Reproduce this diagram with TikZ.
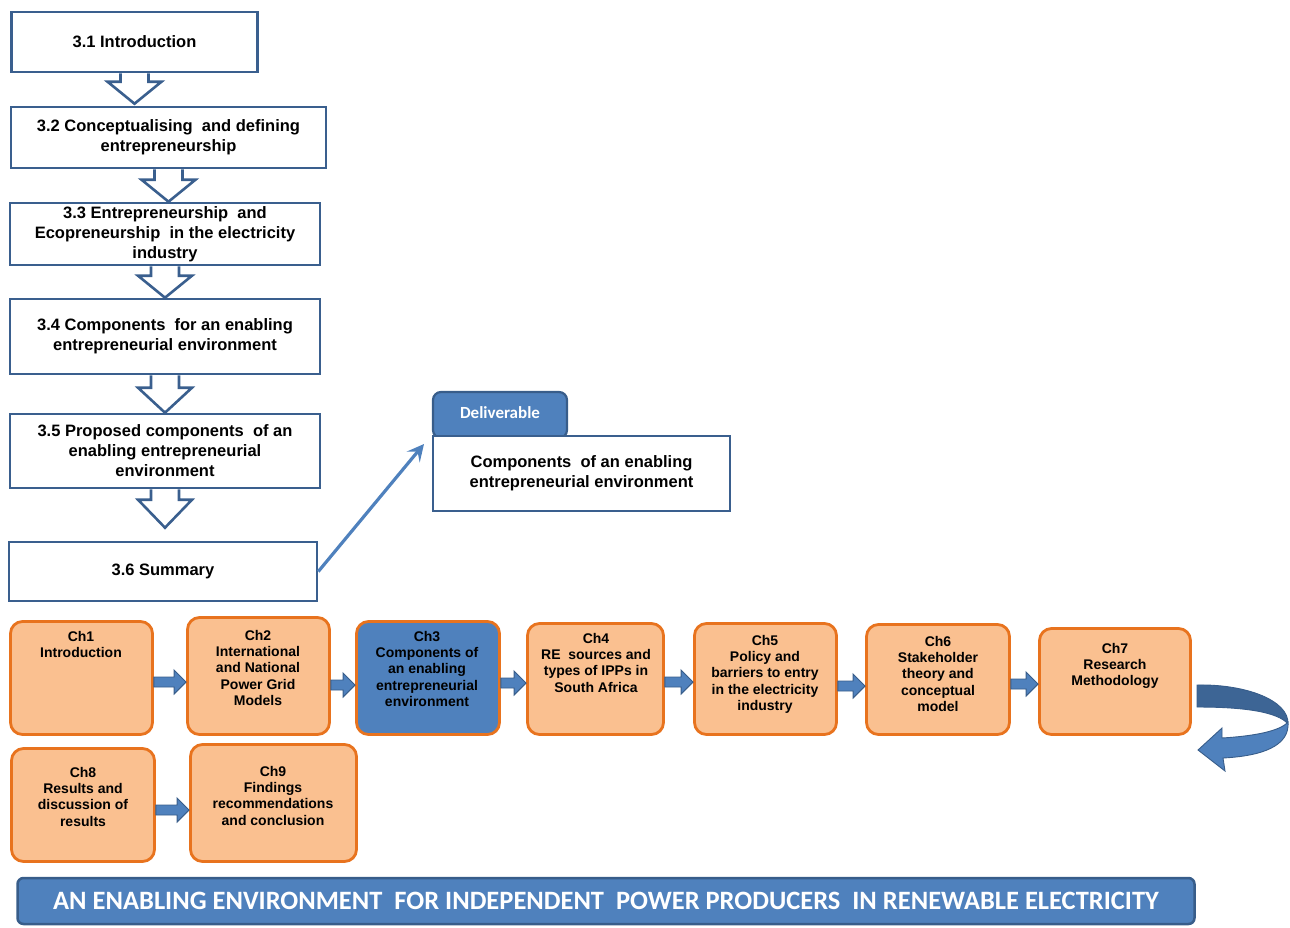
\documentclass[tikz,border=0pt]{standalone}
\usepackage{fontspec}
\setmainfont{Liberation Sans}
\newfontfamily\calfont{Carlito}
\usetikzlibrary{arrows.meta,calc}

\definecolor{navy}{HTML}{3A5F8E}
\definecolor{steel}{HTML}{4F81BD}
\definecolor{steeldark}{HTML}{385D8A}
\definecolor{backblue}{HTML}{3D6595}
\definecolor{orng}{HTML}{E8731E}
\definecolor{peach}{HTML}{FAC090}

\tikzset{
  secbox/.style={draw=navy, line width=2.6pt, fill=white, inner sep=0pt,
    align=center, font=\bfseries\fontsize{16.5}{20}\selectfont},
  hollowarr/.style={draw=navy, fill=white, line width=2.6pt, line join=miter},
  chbox/.style={draw=orng, line width=2.8pt, fill=peach, rounded corners=12pt, inner sep=0pt},
  chtext/.style={anchor=north, inner sep=0pt, align=center,
    font=\bfseries\fontsize{14}{16.3}\selectfont},
  blockarr/.style={fill=steel, draw=steeldark, line width=0.9pt, line join=miter},
  linkarr/.style={draw=steel, line width=3.2pt, -{Stealth[length=17pt,width=17pt,inset=7pt]}},
}

% hollow block arrow pointing down: from node, to node, head length, gap above target
\newcommand\hollowdown[4]{%
  \path[hollowarr] let \p1=(#1.south), \p2=(#2.north) in
    (\x1-14pt,\y1) -- (\x1-14pt,\y2+#4pt+#3pt) -- (\x1-27pt,\y2+#4pt+#3pt)
    -- (\x1,\y2+#4pt) -- (\x1+27pt,\y2+#4pt+#3pt) -- (\x1+14pt,\y2+#4pt+#3pt)
    -- (\x1+14pt,\y1);}

% small filled block arrow between two chapter boxes at a given height
\newcommand\blockright[3]{%
  \draw[blockarr] let \p1=(#1.east), \p2=(#2.west), \p3=(0,#3) in
    (\x1,\y3+5pt) -- (\x2-12pt,\y3+5pt) -- (\x2-12pt,\y3+12pt) -- (\x2,\y3)
    -- (\x2-12pt,\y3-12pt) -- (\x2-12pt,\y3-5pt) -- (\x1,\y3-5pt) -- cycle;}

\begin{document}
\begin{tikzpicture}[x=1pt,y=-1pt]
\useasboundingbox (0,0) rectangle (1290,927);

% section box centres
\path
  (134.5,42)  coordinate (p1)
  (168.5,137.5) coordinate (p2)
  (165,234)   coordinate (p3)
  (165,336.5) coordinate (p4)
  (165,451)   coordinate (p5)
  (163,571.5) coordinate (p6);

% invisible frames used to place the arrows underneath the boxes
\node[secbox, minimum width=246, minimum height=60, draw=none, fill=none] (s1) at (p1) {};
\node[secbox, minimum width=315, minimum height=61, draw=none, fill=none] (s2) at (p2) {};
\node[secbox, minimum width=310, minimum height=62, draw=none, fill=none] (s3) at (p3) {};
\node[secbox, minimum width=310, minimum height=75, draw=none, fill=none] (s4) at (p4) {};
\node[secbox, minimum width=310, minimum height=74, draw=none, fill=none] (s5) at (p5) {};
\node[secbox, minimum width=308, minimum height=59, draw=none, fill=none] (s6) at (p6) {};

\hollowdown{s1}{s2}{22}{2}
\hollowdown{s2}{s3}{22}{0}
\hollowdown{s3}{s4}{22}{0}
\hollowdown{s4}{s5}{25}{0}
\hollowdown{s5}{s6}{28}{13}

\node[secbox, minimum width=246, minimum height=60] (b1) at (p1) {3.1 Introduction};
\node[secbox, minimum width=315, minimum height=61] (b2) at (p2)
  {3.2 Conceptualising\ \ and defining\\entrepreneurship};
\node[secbox, minimum width=310, minimum height=62] (b3) at (p3)
  {3.3 Entrepreneurship\ \ and\\Ecopreneurship\ \ in the electricity\\industry};
\node[secbox, minimum width=310, minimum height=75] (b4) at (p4)
  {3.4 Components\ \ for an enabling\\entrepreneurial environment};
\node[secbox, minimum width=310, minimum height=74] (b5) at (p5)
  {3.5 Proposed components\ \ of an\\enabling entrepreneurial\\environment};
\node[secbox, minimum width=308, minimum height=59] (b6) at (p6) {3.6 Summary};

% deliverable
\node[draw=steeldark, line width=2.2pt, fill=steel, rounded corners=8pt,
  minimum width=134, minimum height=46, inner sep=0pt] (dtab) at (500,415) {};
\node[text=white, font=\calfont\bfseries\fontsize{17}{20}\selectfont, inner sep=0pt]
  (dtabtext) at (500,413) {Deliverable};
\node[secbox, minimum width=297, minimum height=75] (dbox) at (581.5,473.5)
  {Components\ \ of an enabling\\entrepreneurial environment};
\coordinate (dlink) at (424,444);
\draw[linkarr] (b6.east) -- (dlink);

% chapter boxes
\node[chbox, minimum width=142, minimum height=113] (c1) at (81.5,678) {};
\node[chbox, minimum width=142, minimum height=117] (c2) at (258.5,676) {};
\node[chbox, fill=steel, minimum width=143, minimum height=113] (c3) at (428,678) {};
\node[chbox, minimum width=136, minimum height=111] (c4) at (595.5,679) {};
\node[chbox, minimum width=142, minimum height=111] (c5) at (765.5,679) {};
\node[chbox, minimum width=143, minimum height=110] (c6) at (938,679.5) {};
\node[chbox, minimum width=151, minimum height=106] (c7) at (1115,681.5) {};
\node[chbox, minimum width=143, minimum height=113] (c8) at (83,805) {};
\node[chbox, minimum width=166, minimum height=117] (c9) at (273.5,803) {};

\node[chtext] (t1) at (81,631) {Ch1\\Introduction};
\node[chtext] (t2) at (258,630) {Ch2\\International\\and National\\Power Grid\\Models};
\node[chtext] (t3) at (427,631) {Ch3\\Components of\\an enabling\\entrepreneurial\\environment};
\node[chtext] (t4) at (596,633) {Ch4\\RE\ \ sources and\\types of IPPs in\\South Africa};
\node[chtext] (t5) at (765,635) {Ch5\\Policy and\\barriers to entry\\in the electricity\\industry};
\node[chtext] (t6) at (938,636) {Ch6\\Stakeholder\\theory and\\conceptual\\model};
\node[chtext] (t7) at (1115,643) {Ch7\\Research\\Methodology};
\node[chtext] (t8) at (83,767) {Ch8\\Results and\\discussion of\\results};
\node[chtext] (t9) at (273,766) {Ch9\\Findings\\recommendations\\and conclusion};

\blockright{c1}{c2}{682}
\blockright{c2}{c3}{685}
\blockright{c3}{c4}{683}
\blockright{c4}{c5}{682}
\blockright{c5}{c6}{686}
\blockright{c6}{c7}{684}
\blockright{c8}{c9}{810}

% curved return arrow after chapter 7
\filldraw[fill=backblue, draw=steeldark, line width=0.9pt]
  (1197,685) .. controls (1245,684) and (1289,700) .. (1288,724)
  .. controls (1278,712) and (1245,707) .. (1197,707) -- cycle;
\filldraw[fill=steel, draw=steeldark, line width=0.9pt, line join=miter]
  (1288,722) .. controls (1290,746) and (1262,756) .. (1223,758)
  -- (1225,771) -- (1198,750) -- (1222,728) -- (1222,738)
  .. controls (1255,736) and (1280,731) .. (1288,722) -- cycle;

% title banner
\node[draw=steeldark, line width=2.5pt, fill=steel, rounded corners=6pt,
  minimum width=1177, minimum height=46, inner sep=0pt, text=white,
  font=\calfont\bfseries\fontsize{26.5}{30}\selectfont] (banner) at (606,901)
  {AN ENABLING ENVIRONMENT\ \ FOR INDEPENDENT\ \ POWER PRODUCERS\ \ IN RENEWABLE ELECTRICITY};
\end{tikzpicture}
\end{document}
